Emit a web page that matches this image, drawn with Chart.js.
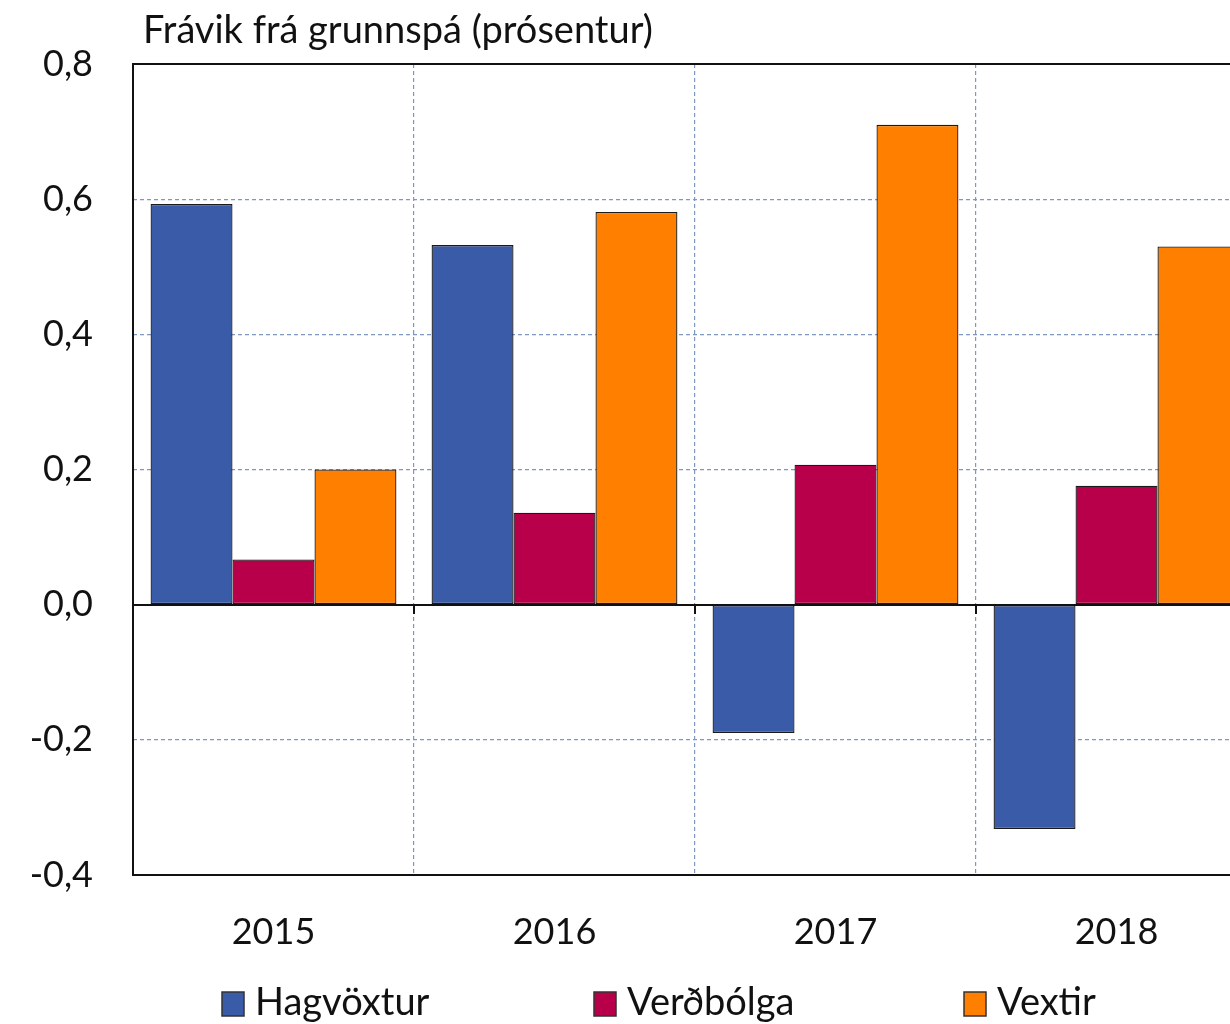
<!DOCTYPE html>
<html>
<head>
<meta charset="utf-8">
<script src="https://cdn.jsdelivr.net/npm/chart.js@4"></script>
<style>
  html, body { margin: 0; padding: 0; background: #fff; overflow: hidden; }
  #wrap { width: 1262px; height: 1024px; }
</style>
</head>
<body>
<div id="wrap"><canvas id="fravik" width="1262" height="1024"></canvas></div>
<script>
// Gögn
const ar = ['2015', '2016', '2017', '2018'];
const hagvoxtur = [0.593, 0.532, -0.19, -0.332];
const verdbolga = [0.067, 0.136, 0.207, 0.176];
const vextir = [0.2, 0.581, 0.71, 0.53];
const yTicks = [-0.4, -0.2, 0, 0.2, 0.4, 0.6, 0.8];
const titill = 'Frávik frá grunnspá (prósentur)';

const letur = 'Lato, "Open Sans", sans-serif';
const gridLitur = '#7f98c2';

function fmt(v) {
  const r = Math.round(v * 10) / 10;
  return (r === 0 ? 0 : r).toFixed(1).replace('.', ',');
}

// Titill, rammi, núlllína og skýringar
const rammi = {
  id: 'rammi',
  afterDatasetsDraw(chart) {
    const { ctx, chartArea: a, scales: { x, y } } = chart;
    ctx.save();
    ctx.strokeStyle = '#111';
    ctx.lineWidth = 2;
    ctx.beginPath();
    ctx.moveTo(a.right + 5, a.top); ctx.lineTo(a.left, a.top);
    ctx.lineTo(a.left, a.bottom); ctx.lineTo(a.right + 5, a.bottom);
    const y0 = Math.round(y.getPixelForValue(0));
    ctx.moveTo(a.left, y0); ctx.lineTo(a.right + 5, y0);
    // merki á núlllínu milli ára
    const bil = x.getPixelForTick(1) - x.getPixelForTick(0);
    for (let i = 0; i < ar.length; i++) {
      const xp = Math.round(x.getPixelForTick(i) + bil / 2);
      ctx.moveTo(xp, y0); ctx.lineTo(xp, y0 + 9);
    }
    ctx.stroke();
    ctx.restore();
  },
  afterDraw(chart) {
    const { ctx, chartArea: a } = chart;
    ctx.save();
    ctx.fillStyle = '#111';
    ctx.font = '38px ' + letur;
    ctx.textBaseline = 'middle';
    ctx.textAlign = 'left';
    ctx.fillText(titill, a.left + 10, 31);
    // skýringar
    const xs = [222, 594, 964];
    chart.data.datasets.forEach((ds, i) => {
      ctx.fillStyle = ds.backgroundColor;
      ctx.strokeStyle = '#333';
      ctx.lineWidth = 1.5;
      ctx.fillRect(xs[i], 992, 22, 24);
      ctx.strokeRect(xs[i], 992, 22, 24);
      ctx.fillStyle = '#111';
      ctx.fillText(ds.label, xs[i] + 33, 1003);
    });
    ctx.restore();
  }
};

new Chart(document.getElementById('fravik'), {
  type: 'bar',
  data: {
    labels: ar,
    datasets: [
      { label: 'Hagvöxtur', data: hagvoxtur, backgroundColor: '#3a5ba7' },
      { label: 'Verðbólga', data: verdbolga, backgroundColor: '#b8004a' },
      { label: 'Vextir', data: vextir, backgroundColor: '#ff8000' }
    ]
  },
  options: {
    responsive: false,
    animation: false,
    layout: { padding: { top: 64, right: 5, left: 0, bottom: 0 } },
    datasets: {
      bar: { barPercentage: 1, categoryPercentage: 0.875, borderColor: '#1a1a1a', borderWidth: 1.3, borderSkipped: false }
    },
    plugins: { legend: { display: false }, tooltip: { enabled: false } },
    scales: {
      x: {
        offset: true,
        grid: { offset: true, color: gridLitur, lineWidth: 1.2, drawTicks: false },
        border: { display: false, dash: [4, 3] },
        ticks: { color: '#111', font: { family: letur, size: 36 }, padding: 36 },
        afterFit(s) { s.height = 149; }
      },
      y: {
        min: -0.4,
        max: 0.8,
        afterBuildTicks(s) { s.ticks = yTicks.map(v => ({ value: v })); },
        grid: { color: gridLitur, lineWidth: 1.2, drawTicks: false },
        border: { display: false, dash: [4, 3] },
        ticks: { color: '#111', font: { family: letur, size: 36 }, padding: 40, callback: v => fmt(v) },
        afterFit(s) { s.width = 133; }
      }
    }
  },
  plugins: [rammi]
});
</script>
</body>
</html>
